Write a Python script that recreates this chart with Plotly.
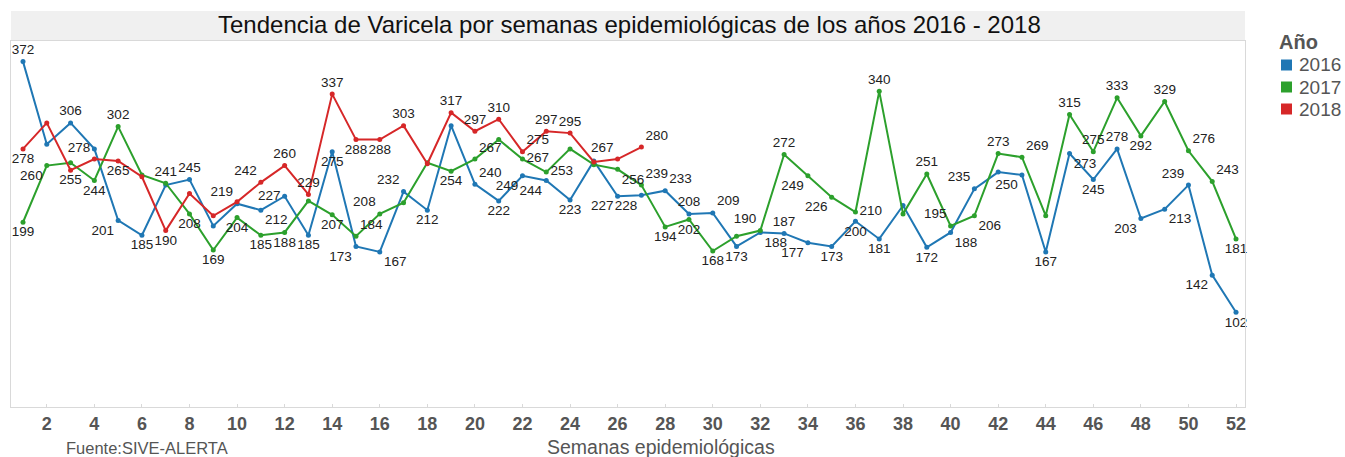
import plotly.graph_objects as go

# ---------------- data ----------------
weeks = list(range(1, 53))
tick_weeks = list(range(2, 53, 2))

casos_2016 = [372, 283, 306, 278, 201, 185, 239, 245, 195, 219, 212, 227, 185, 275, 173, 167,
              232, 212, 303, 240, 222, 249, 244, 223, 265, 227, 228, 233, 208, 209, 173, 188,
              187, 177, 173, 200, 181, 217, 172, 188, 235, 253, 250, 167, 273, 245, 278, 203,
              213, 239, 142, 102]
casos_2017 = [199, 260, 263, 244, 302, 250, 241, 208, 169, 204, 185, 188, 222, 207, 184, 208,
              220, 263, 254, 267, 288, 267, 253, 278, 261, 256, 239, 194, 202, 168, 184, 190,
              272, 249, 226, 210, 340, 208, 251, 195, 206, 273, 269, 206, 315, 275, 333, 292,
              329, 276, 243, 181]
casos_2018 = [278, 306, 255, 267, 265, 248, 190, 230, 206, 221, 242, 260, 229, 337, 288, 288,
              303, 262, 317, 297, 310, 275, 297, 295, 264, 267, 280]

years = ["2016", "2017", "2018"]
colors = {"2016": "#1F77B4", "2017": "#2CA02C", "2018": "#D62728"}

# label placement (week -> position) ; weeks not listed carry no label
lab_2016 = {1: 'top center', 3: 'top center', 4: 'middle left', 5: 'bottom left', 6: 'bottom center',
            8: 'top center', 10: 'top left', 11: 'bottom right', 12: 'middle left', 13: 'bottom center',
            14: 'bottom center', 15: 'bottom left', 16: 'bottom right', 17: 'top left', 18: 'bottom center',
            20: 'top right', 21: 'bottom center', 22: 'bottom left', 23: 'bottom left', 24: 'bottom center',
            26: 'bottom left', 27: 'bottom left', 28: 'top right', 29: 'top center', 30: 'top right',
            31: 'bottom center', 32: 'bottom right', 33: 'top center', 34: 'bottom left', 35: 'bottom center',
            36: 'bottom center', 37: 'bottom center', 39: 'bottom center', 40: 'bottom right', 41: 'top left',
            43: 'bottom left', 44: 'bottom center', 45: 'bottom right', 46: 'bottom center', 47: 'top center',
            48: 'bottom left', 49: 'bottom right', 50: 'top left', 51: 'bottom left', 52: 'bottom center'}
lab_2017 = {1: 'bottom center', 2: 'bottom left', 4: 'bottom center', 5: 'top center', 7: 'top center',
            8: 'bottom center', 9: 'bottom center', 10: 'bottom center', 11: 'bottom center', 12: 'bottom center',
            14: 'bottom center', 15: 'top right', 16: 'top left', 19: 'bottom center', 20: 'top right',
            22: 'middle right', 23: 'middle right', 26: 'bottom right', 27: 'top right', 28: 'bottom center',
            29: 'bottom center', 30: 'bottom center', 32: 'top left', 33: 'top center', 34: 'bottom left',
            35: 'bottom left', 36: 'middle right', 37: 'top center', 39: 'top center', 40: 'top left',
            41: 'bottom right', 42: 'top center', 43: 'top right', 45: 'top center', 46: 'top center',
            47: 'top center', 48: 'bottom center', 49: 'top center', 50: 'top right', 51: 'top right',
            52: 'bottom center'}
lab_2018 = {1: 'bottom center', 3: 'bottom center', 5: 'bottom center', 7: 'bottom center', 11: 'top left',
            12: 'top center', 13: 'top center', 14: 'top center', 15: 'bottom center', 16: 'bottom center',
            17: 'top center', 19: 'top center', 20: 'top center', 21: 'top center', 22: 'top right',
            23: 'top center', 24: 'top center', 26: 'top left', 27: 'top right'}

series = {"2016": (casos_2016, lab_2016), "2017": (casos_2017, lab_2017), "2018": (casos_2018, lab_2018)}

# ---------------- layout geometry ----------------
W, H = 1345, 457
ML, MR, MT, MB = 11, 100, 41, 50
PH = H - MT - MB
PW = W - ML - MR
FONT = "Liberation Sans, Arial, sans-serif"


def py(ypix):
    """page pixel y -> paper y"""
    return (H - MB - ypix) / PH


def px(xpix):
    """page pixel x -> paper x"""
    return (xpix - ML) / PW


fig = go.Figure()
for yr in years:
    vals, labs = series[yr]
    wk = weeks[:len(vals)]
    text = [str(v) if w in labs else "" for w, v in zip(wk, vals)]
    pos = [labs.get(w, "top center") for w in wk]
    fig.add_trace(go.Scatter(
        x=wk, y=vals, name=yr, mode="lines+markers+text",
        line=dict(color=colors[yr], width=2),
        marker=dict(color=colors[yr], size=5),
        text=text, textposition=pos,
        textfont=dict(family=FONT, size=13.5, color="#222222"),
        showlegend=False, cliponaxis=False,
    ))

# title band
fig.add_shape(type="rect", xref="paper", yref="paper", x0=0, x1=1, y0=py(40), y1=py(11),
              fillcolor="#F0F0F0", line=dict(width=0), layer="below")

annotations = [
    dict(text="Tendencia de Varicela por semanas epidemiológicas de los años 2016 - 2018",
         xref="paper", yref="paper", x=px(629), y=py(25), xanchor="center", yanchor="middle",
         showarrow=False, font=dict(family=FONT, size=24, color="#111111")),
    dict(text="Semanas epidemiológicas", xref="paper", yref="paper", x=px(661),
         y=py(447), xanchor="center", yanchor="middle", showarrow=False,
         font=dict(family=FONT, size=19.5, color="#555555")),
    dict(text="Fuente:SIVE-ALERTA", xref="paper", yref="paper", x=px(64),
         y=py(448), xanchor="left", yanchor="middle", showarrow=False,
         font=dict(family=FONT, size=16.5, color="#555555")),
    dict(text="<b>Año</b>", xref="paper", yref="paper", x=px(1277),
         y=py(42), xanchor="left", yanchor="middle", showarrow=False,
         font=dict(family=FONT, size=20, color="#555555")),
]
# legend: coloured squares + year labels
for i, yr in enumerate(years):
    ypix = 65 + i * 22
    fig.add_shape(type="rect", xref="paper", yref="paper",
                  x0=px(1281), x1=px(1292), y0=py(ypix + 5.5), y1=py(ypix - 5.5),
                  fillcolor=colors[yr], line=dict(width=0))
    annotations.append(dict(
        text=yr, xref="paper", yref="paper",
        x=px(1297), y=py(ypix), xanchor="left", yanchor="middle",
        showarrow=False, font=dict(family=FONT, size=19, color="#555555")))

fig.update_layout(
    width=W, height=H,
    margin=dict(l=ML, r=MR, t=MT, b=MB),
    paper_bgcolor="white", plot_bgcolor="white",
    annotations=annotations,
    showlegend=False,
    xaxis=dict(range=[0.4955, 52.378], tickmode="array", tickvals=tick_weeks,
               ticktext=[str(t) for t in tick_weeks],
               tickfont=dict(family=FONT, size=18, color="#555555", weight="bold"),
               showgrid=False, zeroline=False, showline=True, linecolor="#D9D9D9", linewidth=1,
               mirror=True, ticks="inside", ticklen=3, tickcolor="#D9D9D9"),
    yaxis=dict(range=[0, 394.2], showticklabels=False, showgrid=False, zeroline=False,
               showline=True, linecolor="#D9D9D9", linewidth=1, mirror=True, ticks=""),
)

fig.write_html("out.html", config={"displayModeBar": False},
               post_script="document.body.style.margin='0';document.body.style.padding='0';")
